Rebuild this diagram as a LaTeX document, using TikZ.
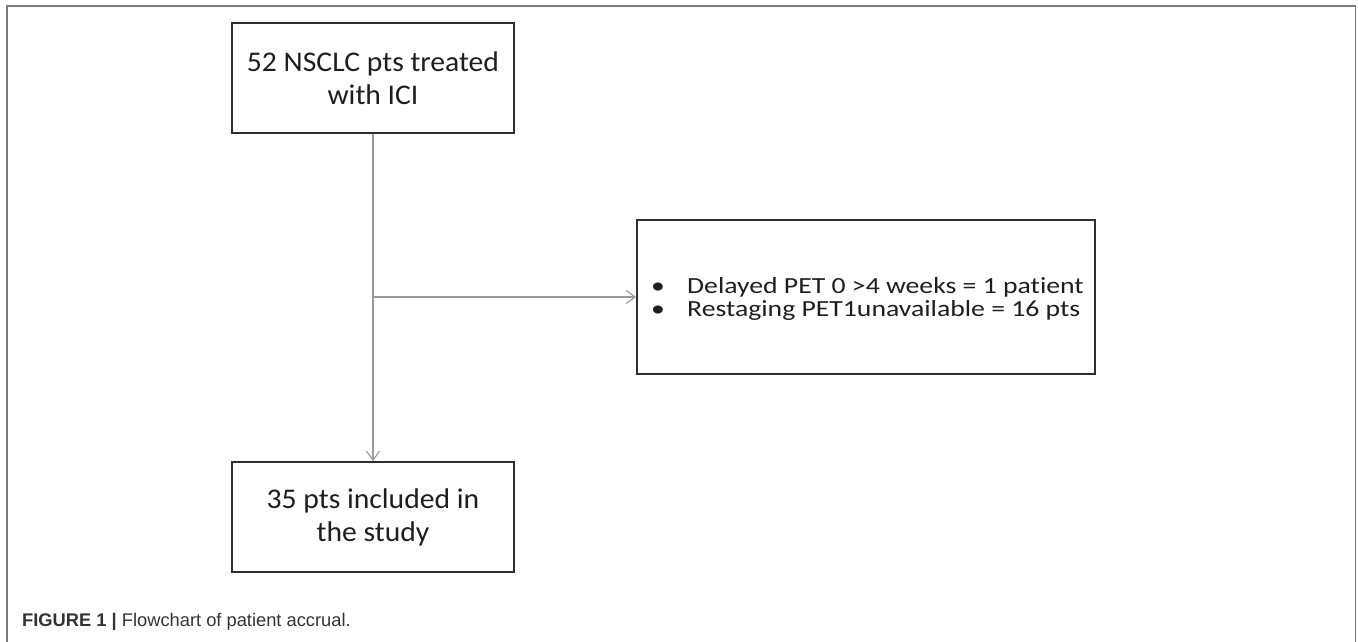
\documentclass[tikz,border=0pt]{standalone}
\usepackage{fontspec}
\setmainfont[Ligatures=NoCommon]{Carlito}
\newfontfamily\boxfont[Ligatures=NoCommon,FakeStretch=1.04]{Carlito}
\newfontfamily\exfont[Ligatures=NoCommon,FakeStretch=1.2]{Carlito}
\newfontfamily\capfont{Liberation Sans}
\usetikzlibrary{arrows.meta}
\definecolor{boxline}{HTML}{2E2E2E}
\definecolor{conn}{HTML}{9A9A9A}
\definecolor{frameline}{HTML}{7A7A7A}
\definecolor{txt}{HTML}{1E1E1E}
\definecolor{captxt}{HTML}{333333}
\begin{document}
\begin{tikzpicture}[x=1pt,y=-1pt,
  flowbox/.style={draw=boxline, line width=1.8pt, text=txt, inner sep=0pt, align=center},
  bigtext/.style={font=\boxfont\fontsize{28.5}{33}\selectfont},
  extext/.style={anchor=base west, inner sep=0pt, text=txt, font=\exfont\fontsize{23.1}{18}\selectfont},
  connector/.style={draw=conn, line width=1.3pt, -{Straight Barb[length=9pt,width=13pt,line width=1.1pt]}}]
\useasboundingbox (0,0) rectangle (1358,641);
\begin{scope}
\clip (0,0) rectangle (1358,641);
\draw[frameline, line width=1.6pt] (7,680) -- (7,6) -- (1355.5,6) -- (1355.5,680);
\end{scope}
\node[flowbox, bigtext, minimum width=282pt, minimum height=110pt] (top) at (373,78) {52 NSCLC pts treated\\with ICI};
\node[flowbox, bigtext, minimum width=282pt, minimum height=110pt] (bot) at (373,517) {35 pts included in\\the study};
\node[flowbox, minimum width=458pt, minimum height=154pt] (ex) at (866,297) {};
\node[extext] (ex1) at (651,293.5) {\makebox[36pt][l]{•}Delayed PET 0 >4 weeks = 1 patient};
\node[extext] (ex2) at (651,316) {\makebox[36pt][l]{•}Restaging PET1unavailable = 16 pts};
\coordinate (j) at (top.south |- ex.west);
\draw[connector] (top.south) -- (bot.north);
\draw[connector] (j) -- (ex.west);
\node[anchor=base west, inner sep=0pt, text=captxt, font=\capfont\fontsize{18.3}{20}\selectfont] (cap) at (22,626) {\textbf{FIGURE 1} \textbf{|} Flowchart of patient accrual.};
\end{tikzpicture}
\end{document}
